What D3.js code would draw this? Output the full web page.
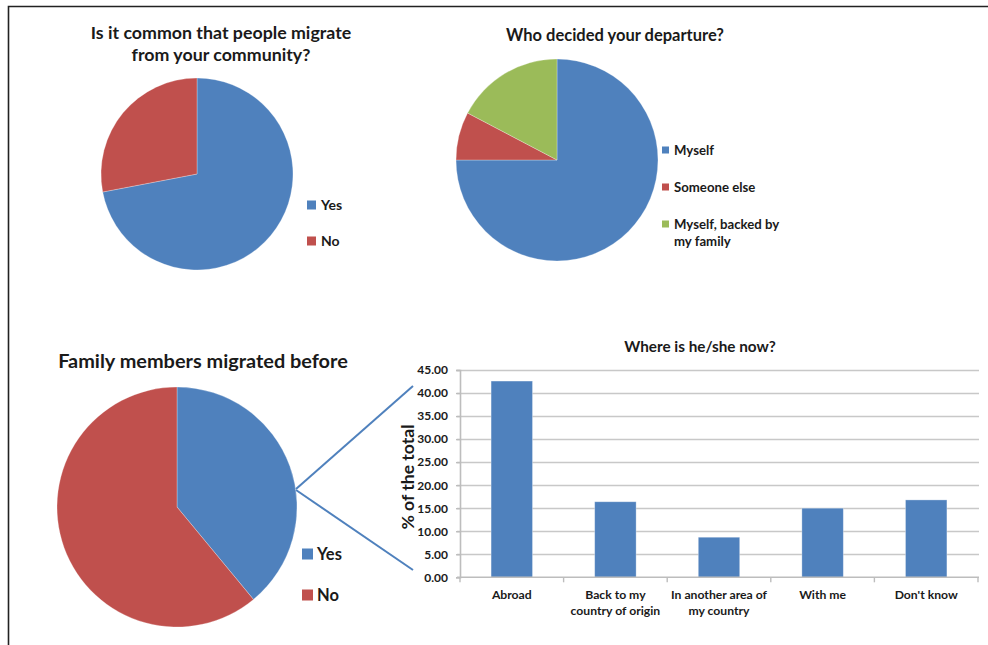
<!DOCTYPE html>
<html>
<head>
<meta charset="utf-8">
<script src="https://cdn.jsdelivr.net/npm/d3@7/dist/d3.min.js"></script>
<style>
  html, body { margin: 0; padding: 0; background: #fff; }
  svg { display: block; font-family: Lato, "Open Sans", sans-serif; }
  text { fill: #1a1a1a; font-weight: bold; }
</style>
</head>
<body>
<svg id="chart" width="988" height="645"></svg>
<script>
// Survey answers (percent of respondents)
const commonLabels = ["Yes", "No"];
const commonValues = [72, 28];

const decidedLabels = ["Myself", "Someone else", "Myself, backed by my family"];
const decidedValues = [75, 7.7, 17.3];

const familyLabels = ["Yes", "No"];
const familyValues = [39, 61];

const whereCategories = [["Abroad"], ["Back to my", "country of origin"], ["In another area of", "my country"], ["With me"], ["Don't know"]];
const whereValues = [42.6, 16.4, 8.7, 15.0, 16.8];
const yTicks = [0, 5, 10, 15, 20, 25, 30, 35, 40, 45];

const blue = "#4f81bd", red = "#c0504d", green = "#9bbb59";

const svg = d3.select("#chart");

// outer frame (top and left edges)
svg.append("path")
  .attr("d", "M8.5,645 L8.5,6.5 L988,6.5")
  .attr("fill", "none").attr("stroke", "#222").attr("stroke-width", 1.6);

function drawPie(cfg) {
  const pie = d3.pie().sort(null).value(d => d.v)(cfg.labels.map((l, i) => ({ l, v: cfg.values[i], c: cfg.colors[i] })));
  const arc = d3.arc().innerRadius(0).outerRadius(cfg.r);
  const g = svg.append("g").attr("transform", `translate(${cfg.cx},${cfg.cy})`);
  g.selectAll("path").data(pie).join("path")
    .attr("d", arc)
    .attr("fill", d => d.data.c)
    .attr("stroke", "rgba(255,255,255,0.35)")
    .attr("stroke-width", 0.8);

  // title
  const t = svg.append("text")
    .attr("x", cfg.titleX).attr("y", cfg.titleY)
    .attr("text-anchor", "middle")
    .style("font-size", cfg.titleSize + "px");
  cfg.title.forEach((line, i) => t.append("tspan").attr("x", cfg.titleX).attr("dy", i === 0 ? 0 : cfg.titleLead).text(line));

  // legend
  const lg = svg.append("g");
  cfg.labels.forEach((l, i) => {
    const y = cfg.legY[i];
    lg.append("rect")
      .attr("x", cfg.legX).attr("y", y - cfg.sq / 2)
      .attr("width", cfg.sq).attr("height", cfg.sq)
      .attr("fill", cfg.colors[i]);
    const lines = cfg.legLines ? cfg.legLines[i] : [l];
    const tx = lg.append("text")
      .attr("x", cfg.legX + cfg.sq + cfg.gap).attr("y", y)
      .style("font-size", cfg.legSize + "px");
    lines.forEach((ln, j) => tx.append("tspan").attr("x", cfg.legX + cfg.sq + cfg.gap).attr("dy", j === 0 ? "0.35em" : cfg.legLead).text(ln));
  });
}

drawPie({
  labels: commonLabels, values: commonValues, colors: [blue, red],
  cx: 197, cy: 174, r: 96,
  title: ["Is it common that people migrate", "from your community?"],
  titleX: 221, titleY: 39, titleSize: 17.8, titleLead: 22,
  legX: 307, legY: [205, 241], sq: 9, gap: 5, legSize: 14
});

drawPie({
  labels: decidedLabels, values: decidedValues, colors: [blue, red, green],
  cx: 557, cy: 160, r: 101,
  title: ["Who decided your departure?"],
  titleX: 615, titleY: 41, titleSize: 16.5, titleLead: 0,
  legX: 662, legY: [150, 187, 224], sq: 7, gap: 5, legSize: 13.2,
  legLines: [["Myself"], ["Someone else"], ["Myself, backed by", "my family"]], legLead: 17
});

drawPie({
  labels: familyLabels, values: familyValues, colors: [blue, red],
  cx: 177, cy: 507, r: 120,
  title: ["Family members migrated before"],
  titleX: 203, titleY: 368, titleSize: 19.9, titleLead: 0,
  legX: 302, legY: [554, 595], sq: 11, gap: 4, legSize: 16.5
});

// connector lines from the "Yes" slice to the bar chart
const conn = svg.append("g").attr("stroke", blue).attr("stroke-width", 2).attr("fill", "none");
conn.append("line").attr("x1", 296).attr("y1", 489).attr("x2", 413).attr("y2", 386);
conn.append("line").attr("x1", 296).attr("y1", 490).attr("x2", 413).attr("y2", 570);

// bar chart: where is the family member now
const x = d3.scaleBand().domain(d3.range(whereValues.length)).range([460, 978]).paddingInner(0.6).paddingOuter(0.3);
const y = d3.scaleLinear().domain([0, 45]).range([577.3, 370]);

const grid = svg.append("g");
grid.selectAll("line").data(yTicks.slice(1)).join("line")
  .attr("x1", 457).attr("x2", 979)
  .attr("y1", d => Math.round(y(d)) + 0.5).attr("y2", d => Math.round(y(d)) + 0.5)
  .attr("stroke", "#c8c8c8").attr("stroke-width", 1.6);

svg.append("g").selectAll("rect").data(whereValues).join("rect")
  .attr("x", (d, i) => x(i)).attr("width", x.bandwidth())
  .attr("y", d => y(d)).attr("height", d => y(0) - y(d))
  .attr("fill", blue)
  .attr("stroke", "rgba(255,255,255,0.4)").attr("stroke-width", 0.8);

// y axis
const yAxis = svg.append("g").attr("transform", "translate(460,0)")
  .call(d3.axisLeft(y).tickValues(yTicks).tickFormat(d3.format(".2f")).tickSize(4).tickPadding(8));
yAxis.select(".domain").attr("stroke", "#bdbdbd").attr("stroke-width", 1.6);
yAxis.selectAll(".tick line").attr("stroke", "#bdbdbd").attr("stroke-width", 1.4);
yAxis.selectAll(".tick text").style("font-size", "12px").style("font-family", "Lato, sans-serif").attr("fill", "#1a1a1a");

// x axis baseline with category separators
const xAxis = svg.append("g").attr("transform", `translate(0,${y(0)})`);
xAxis.append("line").attr("x1", 457).attr("x2", 979).attr("stroke", "#bdbdbd").attr("stroke-width", 1.6);
xAxis.selectAll("line.sep").data(d3.range(whereValues.length + 1)).join("line")
  .attr("class", "sep")
  .attr("x1", i => 460 + i * x.step()).attr("x2", i => 460 + i * x.step())
  .attr("y1", 0).attr("y2", 5)
  .attr("stroke", "#bdbdbd").attr("stroke-width", 1.4);

const xl = svg.append("g");
whereCategories.forEach((lines, i) => {
  const cx = x(i) + x.bandwidth() / 2;
  const t = xl.append("text").attr("text-anchor", "middle").attr("x", cx).attr("y", 599).style("font-size", "12.2px");
  lines.forEach((ln, j) => t.append("tspan").attr("x", cx).attr("dy", j === 0 ? 0 : 16).text(ln));
});

svg.append("text")
  .attr("x", 700).attr("y", 352)
  .attr("text-anchor", "middle")
  .style("font-size", "15.3px")
  .text("Where is he/she now?");

svg.append("text")
  .attr("transform", "translate(414,477) rotate(-90)")
  .attr("text-anchor", "middle")
  .style("font-size", "17.6px")
  .text("% of the total");
</script>
</body>
</html>
